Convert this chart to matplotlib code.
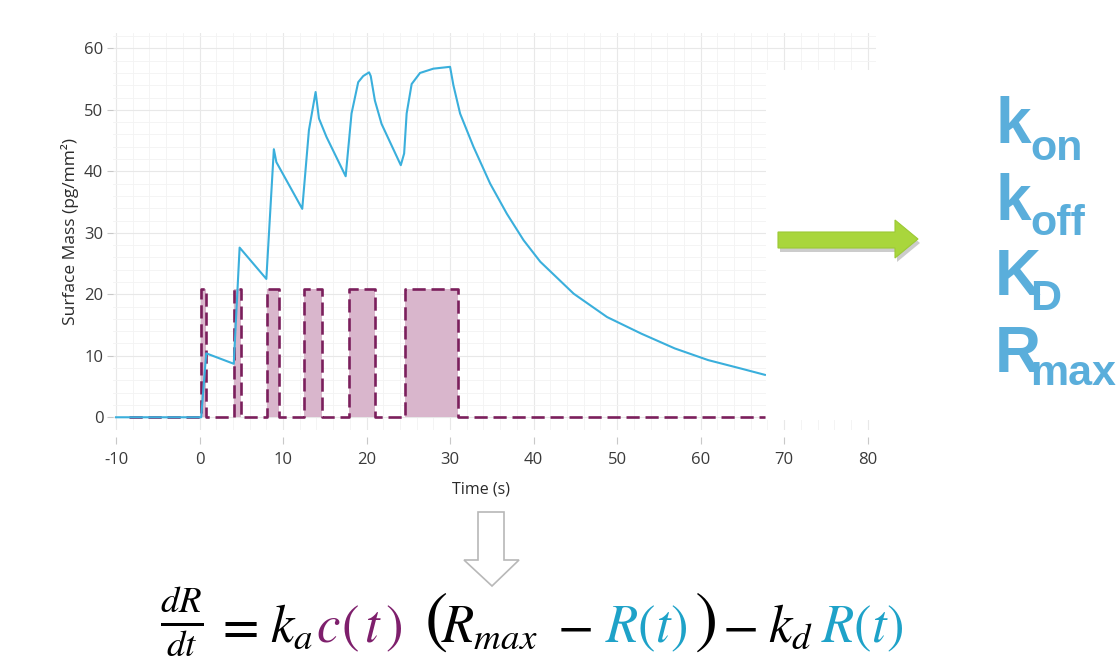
import matplotlib
matplotlib.use("Agg")
import matplotlib.pyplot as plt
from matplotlib.patches import Polygon, Rectangle
from matplotlib.ticker import MultipleLocator

# ---------------- data ----------------
surface_time = [-10.0, 0.2, 0.8, 4.1, 4.8, 8.0, 8.9, 9.2, 12.3, 13.1, 13.9, 14.3,
                15.2, 17.5, 18.2, 19.0, 19.6, 20.3, 20.5, 21.0, 21.8, 24.1, 24.5,
                24.8, 25.4, 26.4, 28.0, 30.0, 30.4, 31.2, 32.8, 34.8, 36.8, 38.8,
                40.8, 44.8, 48.8, 52.9, 56.9, 60.9, 64.9, 67.7]
surface_mass = [0.0, 0.0, 10.4, 8.7, 27.6, 22.5, 43.6, 41.5, 33.9, 46.7, 52.9, 48.6,
                45.6, 39.2, 49.4, 54.5, 55.5, 56.1, 55.5, 51.5, 47.7, 41.0, 42.9,
                49.4, 54.2, 56.0, 56.7, 57.0, 54.0, 49.4, 44.0, 38.0, 33.1, 28.8,
                25.3, 20.1, 16.3, 13.6, 11.2, 9.3, 7.9, 6.9]

pulse_start = [0.2, 4.1, 8.1, 12.5, 17.9, 24.6]
pulse_end = [0.8, 5.0, 9.5, 14.7, 21.0, 31.0]
pulse_level = 20.8
conc_first = -8.4
conc_last = 67.7

x_ticks = [-10, 0, 10, 20, 30, 40, 50, 60, 70, 80]
y_ticks = [0, 10, 20, 30, 40, 50, 60]
x_label = "Time (s)"
y_label = "Surface Mass (pg/mm²)"

param_main = ["k", "k", "K", "R"]
param_sub = ["on", "off", "D", "max"]

# ---------------- styling ----------------
plt.rcParams["font.family"] = ["Open Sans", "DejaVu Sans"]
plt.rcParams["axes.unicode_minus"] = False
plt.rcParams["mathtext.fontset"] = "stix"

W, H = 1118, 658
fig = plt.figure(figsize=(W / 100, H / 100), dpi=100)
fig.patch.set_facecolor("white")


def fx(x):
    return x / W


def fy(y):
    return 1 - y / H


BLUE = "#3aafdc"
PURPLE = "#7b1f5c"
FILL = "#d9b6cc"

ax = fig.add_axes([fx(113), fy(430), fx(876) - fx(113), fy(33) - fy(430)])
ax.set_xlim(-10.36, 81.0)
ax.set_ylim(-2.07, 62.5)

# concentration (injection) step series
conc_t = [conc_first]
conc_v = [0.0]
for s, e in zip(pulse_start, pulse_end):
    conc_t += [s, s, e, e]
    conc_v += [0.0, pulse_level, pulse_level, 0.0]
conc_t.append(conc_last)
conc_v.append(0.0)

ax.fill_between(conc_t, conc_v, 0, color=FILL, linewidth=0, zorder=2)
ax.plot(conc_t, conc_v, color=PURPLE, lw=1.9, dashes=(5, 2.2), zorder=3)
ax.plot(surface_time, surface_mass, color=BLUE, lw=1.5, zorder=4)

ax.set_xticks(x_ticks)
ax.set_yticks(y_ticks)
ax.xaxis.set_minor_locator(MultipleLocator(2))
ax.yaxis.set_minor_locator(MultipleLocator(2))
ax.grid(which="major", color="#e8e8e8", lw=0.8)
ax.grid(which="minor", color="#f3f3f3", lw=0.6)
ax.set_axisbelow(True)
for sp in ax.spines.values():
    sp.set_visible(False)
ax.spines["bottom"].set_position(("outward", 5))
ax.tick_params(which="major", length=5, width=0.8, color="#c8c8c8",
               labelsize=12, labelcolor="#3a3a3a")
ax.tick_params(axis="x", pad=6)
ax.tick_params(axis="y", pad=3, length=4)
ax.tick_params(which="minor", length=0)

fig.text(fx(481), fy(490), x_label, ha="center", va="center", fontsize=11.5,
         color="#2a2a2a")
fig.text(fx(70), fy(232), y_label, ha="center", va="center", fontsize=12.5,
         color="#2a2a2a", rotation=90)

# white panel behind the arrow / parameter list (covers grid)
fig.patches.append(Rectangle((fx(766), fy(420)), fx(1118) - fx(766), fy(70) - fy(420),
                             transform=fig.transFigure, facecolor="white",
                             edgecolor="none", zorder=1))

# green arrow with shadow
green_pts = [(778, 232), (895, 232), (895, 220), (918, 239), (895, 258), (895, 248),
             (778, 248)]
shadow = [(fx(x + 2), fy(y + 4)) for x, y in green_pts]
fig.patches.append(Polygon(shadow, closed=True, transform=fig.transFigure,
                           facecolor="#9a9a9a", edgecolor="none", alpha=0.5, zorder=2))
fig.patches.append(Polygon([(fx(x), fy(y)) for x, y in green_pts], closed=True,
                           transform=fig.transFigure, facecolor="#a9d63c",
                           edgecolor="#9cc935", lw=0.8, zorder=3))

# hollow down arrow
down_pts = [(478, 512), (504, 512), (504, 560), (519, 560), (492, 586), (464, 560),
            (478, 560)]
fig.patches.append(Polygon([(fx(x), fy(y)) for x, y in down_pts], closed=True,
                           transform=fig.transFigure, facecolor="white",
                           edgecolor="#b8b8b8", lw=1.2, zorder=3))

# kinetic parameters list
PCOL = "#5aaedb"
main_base = [143, 220, 295, 372]
sub_base = [160, 235, 310, 385]
for m, s, mb, sb in zip(param_main, param_sub, main_base, sub_base):
    fig.text(fx(995), fy(mb), m, fontsize=46, fontweight="bold", color=PCOL,
             family="Liberation Sans", ha="left", va="baseline", zorder=5)
    fig.text(fx(1030), fy(sb), s, fontsize=31, fontweight="bold", color=PCOL,
             family="Liberation Sans", ha="left", va="baseline", zorder=5)

# rate equation
EQ_BLUE = "#1ea2c8"
EQ_PURPLE = "#7e1f6c"
eq_pieces = [
    (r"$\frac{dR}{dt}$", "black", 160, 38, 634),
    (r"$=$", "black", 215, 38, 642),
    (r"$k_a$", "black", 270, 38, 642),
    (r"$c$", EQ_PURPLE, 316, 38, 642),
    (r"$(\,t\,)$", EQ_PURPLE, 341, 38, 642),
    (r"$($", "black", 424, 50, 640),
    (r"$R_{max}$", "black", 441, 38, 642),
    (r"$-$", "black", 557, 38, 642),
    (r"$R(t)$", EQ_BLUE, 605, 38, 642),
    (r"$)$", "black", 694, 50, 640),
    (r"$-$", "black", 722, 38, 642),
    (r"$k_d$", "black", 768, 38, 642),
    (r"$R(t)$", EQ_BLUE, 821, 38, 642),
]
for txt, col, xp, fs, yb in eq_pieces:
    fig.text(fx(xp), fy(yb), txt, color=col, fontsize=fs, ha="left",
             va="baseline", zorder=5)

fig.savefig("out.png", dpi=100, facecolor="white")
